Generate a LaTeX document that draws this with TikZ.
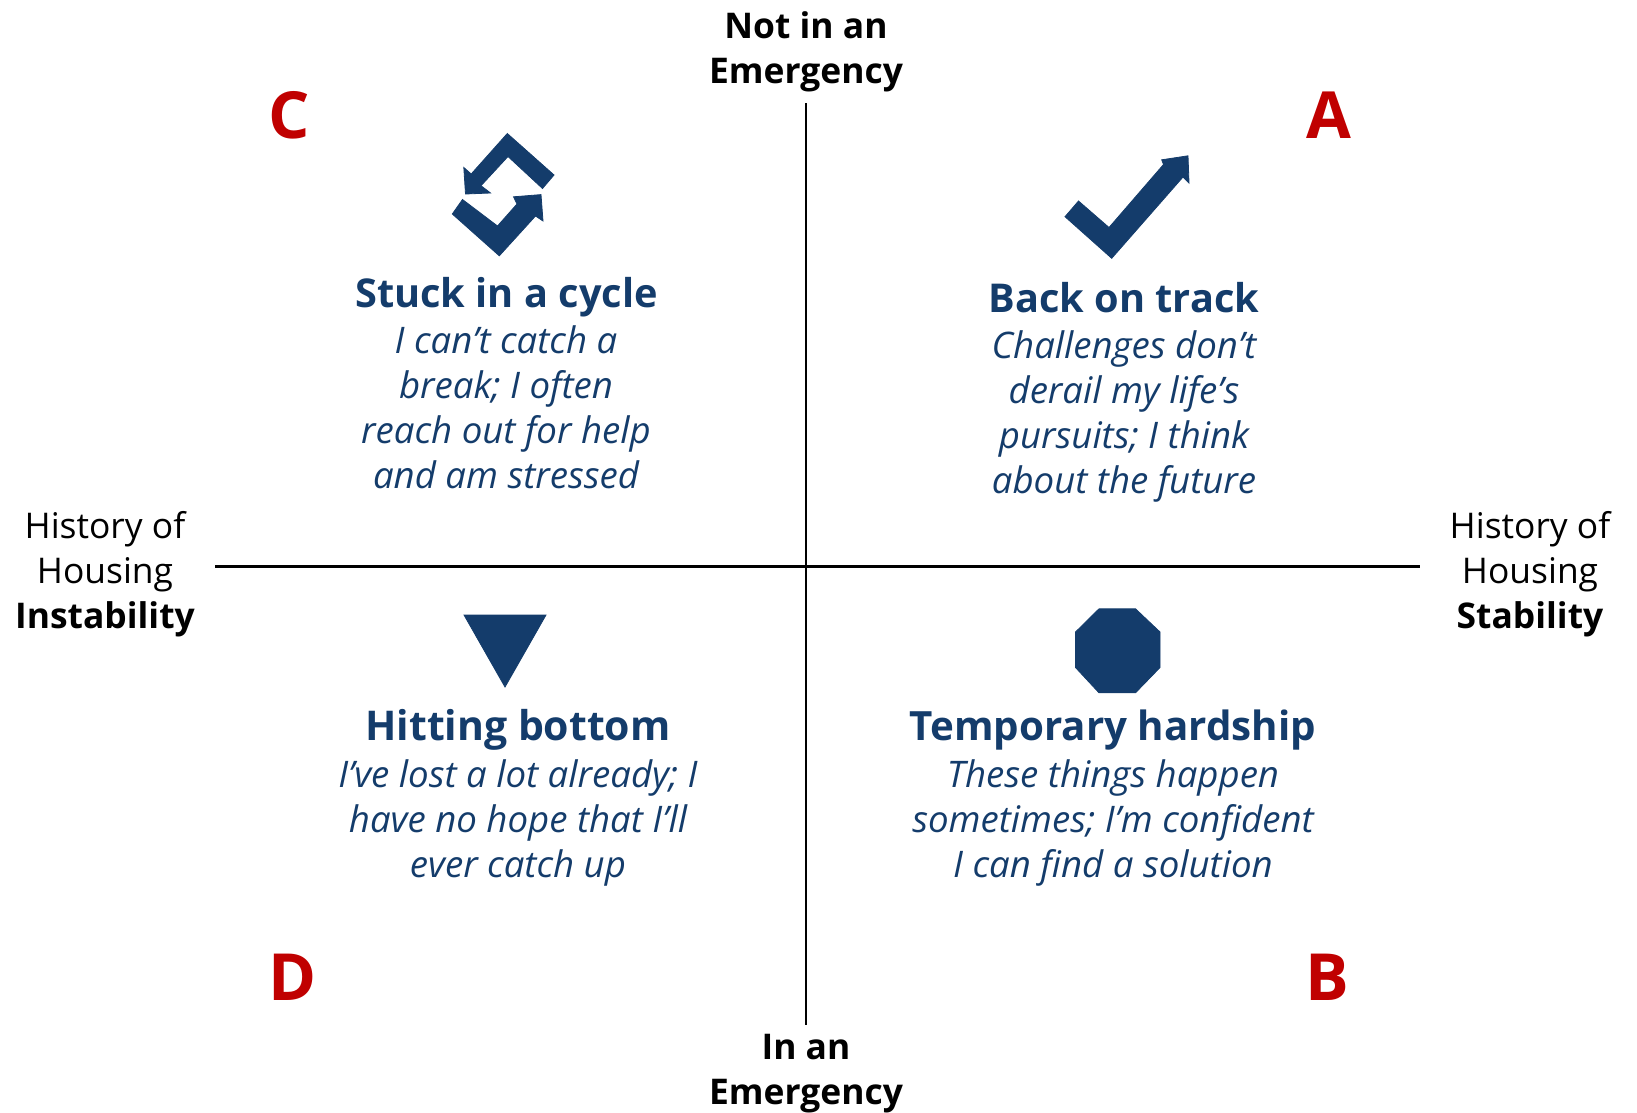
\documentclass[tikz,border=0pt]{standalone}
\usepackage{fontspec}
\setmainfont{Open Sans}
\definecolor{navy}{HTML}{143C6B}
\definecolor{letter}{HTML}{C00000}
\tikzset{
  x=1pt,y=-1pt,
  axislabel/.style={align=center,font=\fontsize{35.4}{45}\selectfont,text=black,inner sep=0pt},
  axisbold/.style={align=center,font=\fontsize{35.4}{45}\selectfont\bfseries,text=black,inner sep=0pt},
  quote/.style={align=center,font=\fontsize{36.6}{45}\selectfont\itshape,text=navy,inner sep=0pt},
  headline/.style={font=\fontsize{39.7}{45}\selectfont\bfseries,text=navy,inner sep=0pt},
  corner/.style={font=\fontsize{65}{65}\selectfont\bfseries,text=letter,inner sep=0pt},
  axisline/.style={draw=black,line width=2.4pt},
  icon/.style={fill=navy,draw=navy,line width=0.8pt,line join=miter},
}
\begin{document}
\begin{tikzpicture}
\useasboundingbox (0,0) rectangle (1637,1112);
\coordinate (top) at (806,103);
\coordinate (bottom) at (806,1025);
\coordinate (left) at (215,566.5);
\coordinate (right) at (1420,566.5);
\draw[axisline] (top) -- (bottom);
\draw[axisline] (left) -- (right);
\node[axisbold] (nt) at (806,51.5) {Not in an\\Emergency};
\node[axisbold] (nb) at (806,1074) {In an\\Emergency};
\node[axislabel] (nl) at (105,574) {History of\\Housing\\\textbf{Instability}};
\node[axislabel] (nr) at (1530,574) {History of\\Housing\\\textbf{Stability}};
\node[corner] (lc) at (289,115) {C};
\node[corner] (la) at (1329,115) {A};
\node[corner] (ld) at (293,977) {D};
\node[corner] (lb) at (1327,977) {B};
\node[headline] (h1) at (506.5,297) {Stuck in a cycle};
\node[quote] (q1) at (506,407) {I can’t catch a\\break; I often\\reach out for help\\and am stressed};
\node[headline] (h2) at (1124,298) {Back on track};
\node[quote] (q2) at (1124,416) {Challenges don’t\\derail my life’s\\pursuits; I think\\about the future};
\node[headline,font=\fontsize{41}{45}\selectfont\bfseries] (h3) at (518,730) {Hitting bottom};
\node[quote] (q3) at (518,823) {I’ve lost a lot already; I\\have no hope that I’ll\\ever catch up};
\node[headline,font=\fontsize{40.3}{45}\selectfont\bfseries] (h4) at (1113,730) {Temporary hardship};
\node[quote] (q4) at (1113,823) {These things happen\\sometimes; I’m confident\\I can find a solution};
\fill[icon] (507.3,133.5)--(554,175)--(542.5,188.5)--(508,156.5)--(481,185.7)--(490.5,193)--(465.5,194)--(463.8,167.5)--(471.2,174)--cycle;
\fill[icon] (462.5,199.5)--(497.5,226)--(517,204)--(513.5,196.8)--(541,194.6)--(543,221)--(535.5,216)--(499.3,255.8)--(452.3,214)--cycle;
\fill[icon] (1065,216.7)--(1078.5,201)--(1109,227.5)--(1163.5,164.5)--(1161.7,159.8)--(1188,155.8)--(1189,183)--(1183,177)--(1111.7,258.3)--cycle;
\fill[icon] (1099,608.8)--(1135.5,608.8)--(1160,632)--(1160,667.5)--(1135.5,692.8)--(1099,692.8)--(1075.5,667.5)--(1075.5,632)--cycle;
\fill[icon] (464,615)--(546,615)--(505,687)--cycle;
\end{tikzpicture}
\end{document}
